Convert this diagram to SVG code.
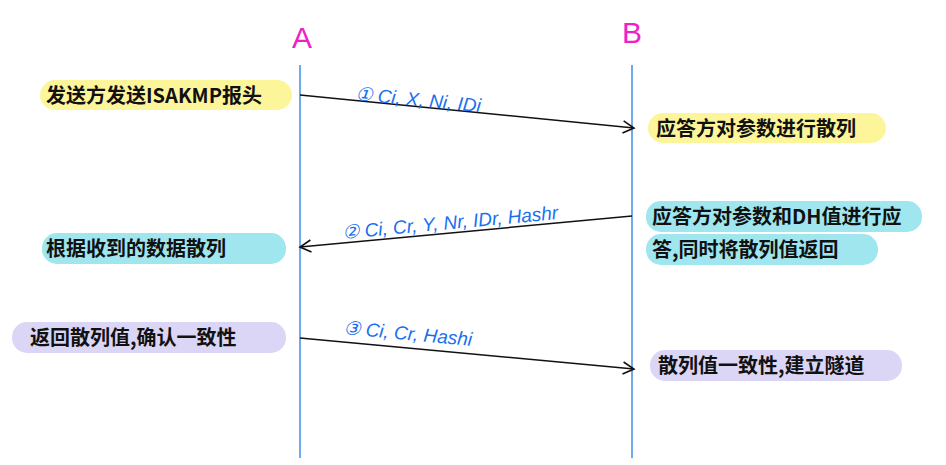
<svg xmlns="http://www.w3.org/2000/svg" width="946" height="465" viewBox="0 0 946 465">
<style>
.life{stroke:#3d8fe8;stroke-width:1.5}
.msg{stroke:#111;stroke-width:1.5;fill:none}
.t{font-family:"Noto Sans CJK SC","Liberation Sans",sans-serif;font-size:20px;fill:#111;font-weight:bold}
.m{font-family:"Liberation Sans",sans-serif;font-size:19px;fill:#1a6ff0;font-style:italic}
.h{font-family:"Liberation Sans",sans-serif;font-size:30px;fill:#f020c8}
.y{fill:#fdf59a}.c{fill:#9fe6ef}.p{fill:#dcd6f6}
</style>
<defs><marker id="ar" markerWidth="14" markerHeight="14" refX="12" refY="7" orient="auto" markerUnits="userSpaceOnUse"><path d="M1,1 L12,7 L1,13" fill="none" stroke="#111" stroke-width="1.6"/></marker></defs>
<g id="A"><text class="h" x="302" y="48" text-anchor="middle">A</text><line class="life" x1="300" y1="65" x2="300" y2="458"/></g>
<g id="B"><text class="h" x="632" y="43" text-anchor="middle">B</text><line class="life" x1="632" y1="65" x2="632" y2="458"/></g>
<g id="n1"><rect class="y" x="40" y="80" width="252" height="30" rx="15"/><text class="t" x="46" y="103">发送方发送ISAKMP报头</text></g>
<g id="n2"><rect class="y" x="648" y="113" width="238" height="30" rx="15"/><text class="t" x="656" y="136">应答方对参数进行散列</text></g>
<g id="n3"><rect class="c" x="646" y="201" width="276" height="31" rx="15"/><rect class="c" x="646" y="234" width="232" height="31" rx="15"/><text class="t" x="652" y="224">应答方对参数和DH值进行应</text><text class="t" x="652" y="257">答,同时将散列值返回</text></g>
<g id="n4"><rect class="c" x="42" y="233" width="244" height="31" rx="15"/><text class="t" x="46" y="256">根据收到的数据散列</text></g>
<g id="n5"><rect class="p" x="12" y="322" width="274" height="31" rx="15"/><text class="t" x="30" y="345">返回散列值,确认一致性</text></g>
<g id="n6"><rect class="p" x="650" y="350" width="252" height="31" rx="15"/><text class="t" x="658" y="373">散列值一致性,建立隧道</text></g>
<g id="connectors">
<line class="msg" x1="300" y1="95" x2="634" y2="128" marker-end="url(#ar)"/>
<line class="msg" x1="632" y1="216" x2="300" y2="247" marker-end="url(#ar)"/>
<line class="msg" x1="300" y1="338" x2="634" y2="369" marker-end="url(#ar)"/>
<text class="m" transform="translate(355,100) rotate(5.6)">① Ci, X, Ni, IDi</text>
<text class="m" transform="translate(343,239) rotate(-5.3)">② Ci, Cr, Y, Nr, IDr, Hashr</text>
<text class="m" transform="translate(343,334) rotate(5.3)">③ Ci, Cr, Hashi</text>
</g>
</svg>
